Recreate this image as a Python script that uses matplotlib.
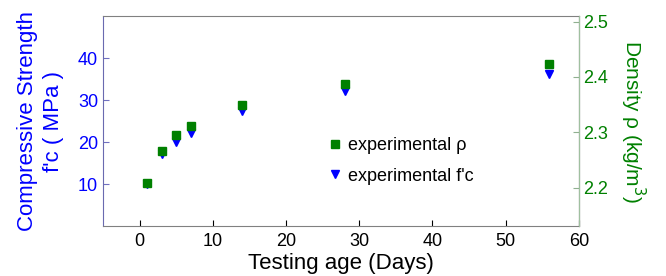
import matplotlib.pyplot as plt
import numpy as np

plt.rcParams['font.family'] = ['Liberation Sans', 'DejaVu Sans']

# data
age = [1, 3, 5, 7, 14, 28, 56]
fc = [10.0, 17.1, 20.1, 22.2, 27.4, 32.1, 36.3]        # MPa
rho = [2.208, 2.267, 2.295, 2.312, 2.350, 2.387, 2.424]  # kg/m3 (x1000)

xticks = [0, 10, 20, 30, 40, 50, 60]
lticks = [10, 20, 30, 40]
rticks = [2.2, 2.3, 2.4, 2.5]

blue = '#0000ff'
green = '#008000'

fig = plt.figure(figsize=(6.66, 2.76), dpi=100)
ax = fig.add_axes([0.1547, 0.181, 0.7143, 0.761])
ax2 = ax.twinx()

h1, = ax.plot(age, fc, 'v', color=blue, markersize=6, linestyle='none')
h2, = ax2.plot(age, rho, 's', color=green, markersize=6, linestyle='none')

ax.set_xlim(-5, 60)
ax.set_ylim(0, 50)
ax2.set_ylim(2.131, 2.510)
ax.set_xticks(xticks)
ax.set_yticks(lticks)
ax2.set_yticks(rticks)

ax.tick_params(axis='x', direction='in', length=4, labelsize=13, colors='black',
               pad=5)
ax.tick_params(axis='y', direction='in', length=4, labelsize=13,
               labelcolor=blue, color='#7070c0')
ax2.tick_params(axis='y', direction='in', length=4, labelsize=13,
                labelcolor=green, color='#90b090')

ax.spines['left'].set_color('#6a6ab0')
ax.spines['bottom'].set_color('#808080')
ax.spines['top'].set_color('#808080')
ax2.spines['right'].set_color('#a0c0a0')
ax2.spines['left'].set_visible(False)
ax2.spines['top'].set_visible(False)
ax2.spines['bottom'].set_visible(False)

ax.set_xlabel('Testing age (Days)', fontsize=16, labelpad=2)
ax.set_ylabel("Compressive Strength\nf'c ( MPa )", fontsize=16, color=blue,
              labelpad=10, linespacing=1.35)
ax2.set_ylabel('Density ρ (kg/m$^3$)', fontsize=15, color=green,
               rotation=270, labelpad=28)

leg = ax.legend([h2, h1], ['experimental ρ', "experimental f'c"],
                loc='center left', bbox_to_anchor=(0.45, 0.31), frameon=False,
                fontsize=13, handletextpad=0.1, labelspacing=0.75,
                borderaxespad=0, handlelength=1.2)

fig.savefig('out.png', dpi=100)
